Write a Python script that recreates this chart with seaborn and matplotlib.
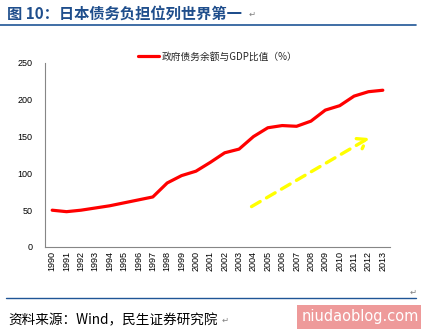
import matplotlib
matplotlib.use("Agg")
import matplotlib.pyplot as plt
import seaborn as sns
import pandas as pd

years = list(range(1990, 2014))
debt_ratio = [50, 48, 50, 53, 56, 60, 64, 68, 87, 97, 103, 115, 128, 133,
              150, 162, 165, 164, 171, 186, 192, 205, 211, 213]
series_name = "政府债务余额与GDP比值（%）"
yticks = [0, 50, 100, 150, 200, 250]
title = "图 10：日本债务负担位列世界第一"
source = "资料来源：Wind，民生证券研究院"

sns.set_theme(style="white")
plt.rcParams['font.family'] = ['Noto Sans CJK SC', 'DejaVu Sans']

df = pd.DataFrame({"year": years, "value": debt_ratio, "series": series_name})

fig = plt.figure(figsize=(4.21, 3.34), dpi=100)
ax = fig.add_axes([45/421, 1-247/334, 345/421, (247-63)/334])

sns.lineplot(data=df, x="year", y="value", hue="series", palette=["#FF0000"],
             linewidth=2.3, ax=ax)
for l in ax.get_lines():
    l.set_solid_joinstyle("round")
    l.set_solid_capstyle("round")

ax.set_xlim(1989.5, 2013.5)
ax.set_ylim(0, 250)
ax.set_xticks(years)
ax.set_xticklabels([str(y) for y in years], rotation=90,
                   fontsize=6.5, family=['Liberation Sans'])
ax.set_yticks(yticks)
ax.set_yticklabels([str(v) for v in yticks], fontsize=6.5, family=['Liberation Sans'])
ax.tick_params(axis='both', length=0, pad=3, colors='black')
ax.tick_params(axis='y', pad=9)
ax.set_xlabel("")
ax.set_ylabel("")
for s in ["top", "right"]:
    ax.spines[s].set_visible(False)
for s in ["left", "bottom"]:
    ax.spines[s].set_color("#868686")
    ax.spines[s].set_linewidth(0.8)

leg = ax.legend(loc="lower center", bbox_to_anchor=(0.5, 0.985), frameon=False,
                fontsize=7, handlelength=2.2, handletextpad=0.2, borderaxespad=0)
for h in leg.get_lines():
    h.set_linewidth(2.3)

# dashed yellow trend arrow
ax.annotate("", xy=(2012.2, 150), xytext=(2003.7, 53),
            arrowprops=dict(arrowstyle="->,head_length=0.5,head_width=0.35",
                            color="#FFFF00", lw=2.4, linestyle=(0, (3, 2.2))))

# header / footer decorations
fig.text(7/421, 1-15/334, title, fontsize=11, fontweight="bold", color="#1F4E8C",
         va="center", ha="left")
fig.text(249/421, 1-14/334, "↵", fontsize=6, color="#808080", va="center",
         family=['DejaVu Sans'])
fig.add_artist(plt.Line2D([0, 416/421], [1-25/334, 1-25/334], color="#1F5596", lw=1.2))
fig.text(410/421, 1-292/334, "↵", fontsize=6, color="#808080", va="center",
         family=['DejaVu Sans'])
fig.add_artist(plt.Line2D([6/421, 416/421], [1-298/334, 1-298/334], color="#1F5596", lw=1.0))
fig.text(8/421, 1-320/334, source, fontsize=9.8, color="black", va="center", ha="left")
fig.text(222/421, 1-320/334, "↵", fontsize=6, color="#808080", va="center",
         family=['DejaVu Sans'])
fig.text(360/421, 1-317/334, "niudaoblog.com", fontsize=10.5, color="white",
         va="center", ha="center", family=['DejaVu Sans'],
         bbox=dict(boxstyle="square,pad=0.3", fc="#EE9A9A", ec="none"))

fig.savefig("out.png", dpi=100)
